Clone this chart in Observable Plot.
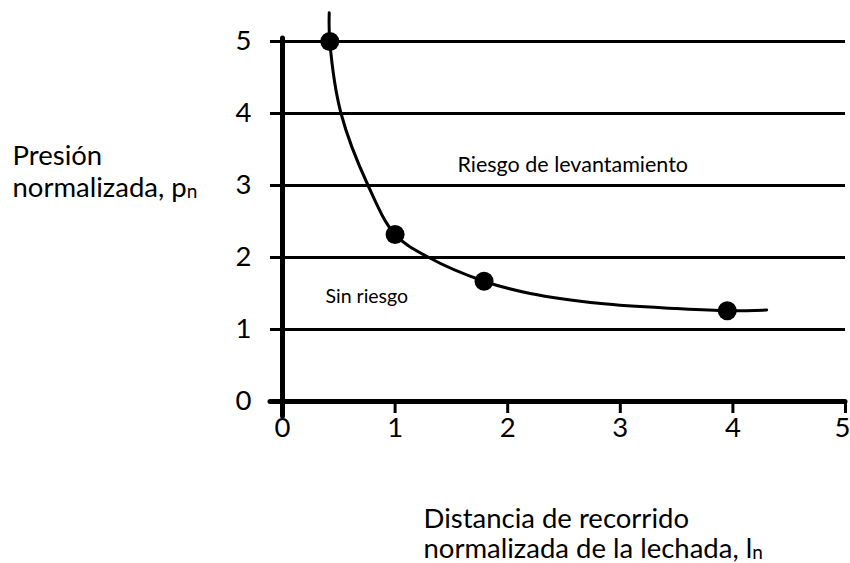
<!DOCTYPE html>
<html>
<head>
<meta charset="utf-8">
<script src="https://cdn.jsdelivr.net/npm/d3@7"></script>
<script src="https://cdn.jsdelivr.net/npm/@observablehq/plot@0.6"></script>
<style>
  html, body { margin: 0; padding: 0; background: #fff; }
  #chart svg { display: block; }
</style>
</head>
<body>
<div id="chart"></div>
<script>
// Measured points (normalized distance, normalized pressure)
const pointX = [0.42, 1.00, 1.79, 3.95];
const pointY = [5.00, 2.32, 1.67, 1.26];

// Fitted curve
const curveX = [0.415, 0.42, 0.52, 0.76, 1.00, 1.30, 1.79, 2.20, 2.83, 3.50, 3.95, 4.30];
const curveY = [5.40, 5.00, 4.00, 3.00, 2.32, 2.00, 1.67, 1.50, 1.36, 1.29, 1.26, 1.27];

const xTicks = [0, 1, 2, 3, 4, 5];
const yTicks = [0, 1, 2, 3, 4, 5];

const yTitle = ["Presión", "normalizada, pn"];
const xTitle = ["Distancia de recorrido", "normalizada de la lechada, ln"];
const regionLabels = ["Riesgo de levantamiento", "Sin riesgo"];

const points = pointX.map((x, i) => ({x, y: pointY[i]}));
const curve = curveX.map((x, i) => ({x, y: curveY[i]}));

const FONT = "Lato, 'Open Sans', sans-serif";
const FS = 27.5;

const chart = Plot.plot({
  width: 850,
  height: 563,
  marginLeft: 282,
  marginRight: 5,
  marginTop: 41,
  marginBottom: 162,
  style: {fontFamily: FONT, fontSize: FS + "px", color: "#000", background: "#fff"},
  x: {domain: [0, 5]},
  y: {domain: [0, 5]},
  marks: [
    // horizontal gridlines (extend left as ticks)
    Plot.ruleY(yTicks.filter(d => d !== 0), {stroke: "#000", strokeWidth: 3, insetLeft: -12}),
    // x axis line (thick)
    Plot.ruleY([0], {stroke: "#000", strokeWidth: 5, insetLeft: -12, strokeLinecap: "round"}),
    // y axis line (thick)
    Plot.ruleX([0], {stroke: "#000", strokeWidth: 5, insetTop: -3, insetBottom: -15, strokeLinecap: "round"}),
    Plot.axisX({ticks: xTicks.filter(d => d !== 0), tickSize: 12, strokeWidth: 3, label: null, text: null}),
    Plot.axisX({ticks: xTicks.slice(0, -1), tickSize: 0, tickPadding: 16, label: null, tickFormat: d => String(d), fontSize: FS}),
    Plot.axisX({ticks: xTicks.slice(-1), tickSize: 0, tickPadding: 16, label: null, tickFormat: d => String(d), fontSize: FS, dx: -3}),
    Plot.axisY({ticks: yTicks, tickSize: 0, tickPadding: 31, label: null, tickFormat: d => String(d), fontSize: FS}),
    // curve
    Plot.line(curve, {x: "x", y: "y", curve: "catmull-rom", stroke: "#000", strokeWidth: 3, clip: false}),
    Plot.dot(points, {x: "x", y: "y", r: 9.5, fill: "#000", stroke: "none"}),
    // region labels
    Plot.text([regionLabels[0]], {text: d => d, frameAnchor: "top-left", dx: 175, dy: 124, textAnchor: "start", lineAnchor: "middle", fontSize: 21.5}),
    Plot.text([regionLabels[1]], {text: d => d, frameAnchor: "top-left", dx: 43, dy: 255, textAnchor: "start", lineAnchor: "middle", fontSize: 19.5}),
    // axis titles
    Plot.text([yTitle[0]], {text: d => d, frameAnchor: "top-left", dx: -270, dy: 115, textAnchor: "start", lineAnchor: "middle", fontSize: FS}),
    Plot.text([yTitle[1]], {text: d => d, frameAnchor: "top-left", dx: -270, dy: 147, textAnchor: "start", lineAnchor: "middle", fontSize: FS}),
    Plot.text([xTitle[0]], {text: d => d, frameAnchor: "bottom-left", dx: 141, dy: 118, textAnchor: "start", lineAnchor: "middle", fontSize: FS}),
    Plot.text([xTitle[1]], {text: d => d, frameAnchor: "bottom-left", dx: 141, dy: 148, textAnchor: "start", lineAnchor: "middle", fontSize: FS})
  ]
});

// Render subscripts (last "n" of the axis titles) smaller
d3.select(chart).selectAll("text").each(function() {
  const t = this.textContent;
  if (t === yTitle[1] || t === xTitle[1]) {
    const sel = d3.select(this);
    sel.text(null);
    sel.append("tspan").text(t.slice(0, -1));
    sel.append("tspan").attr("font-size", "19px").attr("dy", "0.05em").text(t.slice(-1));
  }
});

document.getElementById("chart").appendChild(chart);
</script>
</body>
</html>
